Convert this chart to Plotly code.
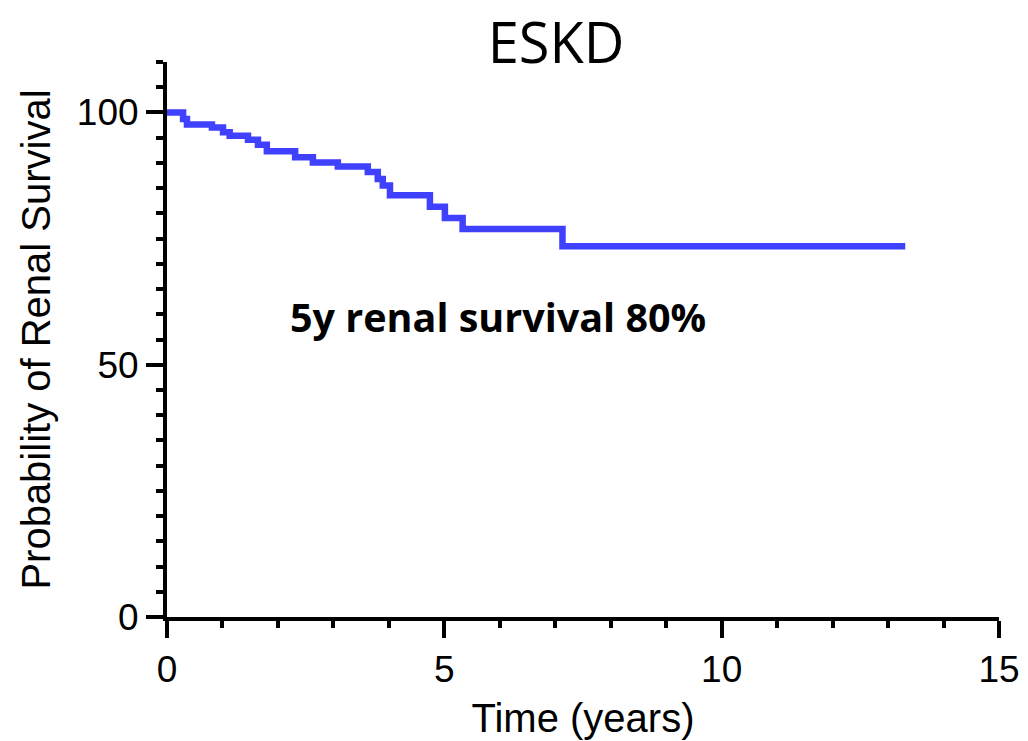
import plotly.graph_objects as go

# Kaplan-Meier step data
time_years = [0, 0.29, 0.36, 0.81, 1.01, 1.13, 1.46, 1.64, 1.80, 2.31, 2.63,
              3.08, 3.62, 3.80, 3.89, 4.02, 4.74, 5.01, 5.33, 7.13, 13.31]
survival_pct = [100, 98.7, 97.6, 97.0, 96.1, 95.4, 94.6, 93.6, 92.3, 91.1, 90.1,
                89.3, 88.2, 86.8, 85.5, 83.6, 81.3, 79.1, 76.9, 73.5, 73.5]

x_ticks = [0, 5, 10, 15]
y_ticks = [0, 50, 100]

title_text = "ESKD"
x_title = "Time (years)"
y_title = "Probability of Renal Survival"
note_text = "5y renal survival 80%"

fig = go.Figure()
fig.add_trace(go.Scatter(
    x=time_years, y=survival_pct, mode="lines",
    line=dict(color="#4040ff", width=6.5, shape="hv"),
    showlegend=False, hoverinfo="x+y",
))

tick_font = dict(family="Liberation Sans, Arial, sans-serif", size=37, color="black")
title_font = dict(family="Liberation Sans, Arial, sans-serif", size=40, color="black")

fig.update_layout(
    width=1028, height=741,
    paper_bgcolor="white", plot_bgcolor="white",
    margin=dict(l=159, r=37, t=54, b=132),
    title=dict(text=title_text, x=548 / 1028, xanchor="center", xref="container",
               y=1 - 35 / 741, yanchor="middle", yref="container",
               font=dict(family="Open Sans, sans-serif", size=56, color="black")),
    annotations=[dict(
        text="<b>" + note_text + "</b>", x=5.96, y=59.4, xref="x", yref="y",
        showarrow=False, xanchor="center", yanchor="middle",
        font=dict(family="Open Sans, sans-serif", size=39.5, color="black"),
    )],
)

fig.update_xaxes(
    range=[0, 15], tickvals=x_ticks, ticktext=[str(v) for v in x_ticks],
    showgrid=False, zeroline=False,
    showline=True, linecolor="black", linewidth=4,
    ticks="outside", ticklen=17, tickwidth=4, tickcolor="black",
    minor=dict(dtick=1, tick0=0, ticks="outside", ticklen=7, tickwidth=4, tickcolor="black", showgrid=False),
    tickfont=tick_font,
    title=dict(text=x_title, font=title_font, standoff=16),
    automargin=False,
)
fig.update_yaxes(
    range=[0, 110], tickvals=y_ticks, ticktext=[str(v) for v in y_ticks],
    showgrid=False, zeroline=False,
    showline=True, linecolor="black", linewidth=4,
    ticks="outside", ticklen=17, tickwidth=4, tickcolor="black",
    minor=dict(dtick=5, tick0=0, ticks="outside", ticklen=7, tickwidth=4, tickcolor="black", showgrid=False),
    tickfont=tick_font,
    title=dict(text=y_title, font=title_font, standoff=15),
    automargin=False,
)

fig.write_html("out.html")
